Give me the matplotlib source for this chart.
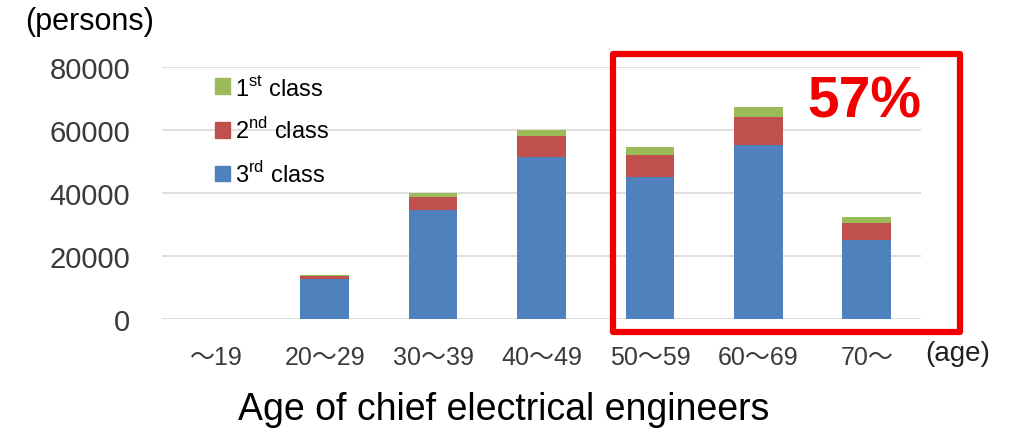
import numpy as np
import matplotlib.pyplot as plt
from matplotlib.patches import Rectangle, Patch

ages = ["～19", "20～29", "30～39", "40～49", "50～59", "60～69", "70～"]
third = [0, 12800, 34600, 51400, 45000, 55300, 25100]
second = [0, 1000, 4300, 6700, 7200, 8900, 5400]
first = [0, 200, 1000, 1900, 2300, 3000, 1900]

c3 = "#4f81bd"
c2 = "#c0504d"
c1 = "#9bbb59"

plt.rcParams['font.family'] = ['Liberation Sans', 'Noto Sans CJK JP', 'DejaVu Sans']

fig = plt.figure(figsize=(10.15, 4.39), dpi=100)
ax = fig.add_axes([0.1596, 0.271, 0.7478, 0.574])

x = np.arange(len(ages))
b3 = np.array(third)
b2 = np.array(second)
b1 = np.array(first)
w = 0.45
ax.bar(x, b3, w, color=c3, zorder=3)
ax.bar(x, b2, w, bottom=b3, color=c2, zorder=3)
ax.bar(x, b1, w, bottom=b3 + b2, color=c1, zorder=3)

ax.set_xlim(-0.5, 6.5)
ax.set_ylim(0, 80000)
ax.set_yticks(np.arange(0, 80001, 20000))
ax.yaxis.grid(True, color="#d9d9d9", linewidth=1.2, zorder=0)
for s in ax.spines.values():
    s.set_visible(False)
ax.tick_params(axis="y", length=0, pad=23, labelsize=21, labelcolor="#3a3a3a")
ax.set_xticks(x)
ax.set_xticklabels(ages)
ax.tick_params(axis="x", length=0, pad=19, labelsize=18, labelcolor="#3a3a3a")

handles = [Patch(color=c1), Patch(color=c2), Patch(color=c3)]
labels = ["1$^{\\mathregular{st}}$ class", "2$^{\\mathregular{nd}}$ class",
          "3$^{\\mathregular{rd}}$ class"]
leg = ax.legend(handles, labels, loc="upper left", bbox_to_anchor=(0.07, 0.97),
                frameon=False, fontsize=17, handlelength=0.65, handleheight=0.65,
                handletextpad=0.2, labelspacing=0.75, borderaxespad=0,
                borderpad=0)

fig.text(25 / 1015, 1 - 22 / 439, "(persons)", fontsize=22, va="center", ha="left")
fig.text(925 / 1015, 1 - 354 / 439, "(age)", fontsize=20, va="center", ha="left",
         color="#202020")
fig.text(504 / 1015, 1 - 410 / 439, "Age of chief electrical engineers",
         fontsize=27, va="center", ha="center")

fig.patches.append(Rectangle((613 / 1015, 1 - 333 / 439), (960 - 613) / 1015,
                             (333 - 55) / 439, transform=fig.transFigure,
                             fill=False, edgecolor="#f20000", linewidth=4.5,
                             joinstyle="round", zorder=5))
fig.text(864 / 1015, 1 - 102 / 439, "57%", fontsize=41, fontweight="bold",
         color="#f20000", ha="center", va="center")

fig.savefig("out.png", dpi=100)
